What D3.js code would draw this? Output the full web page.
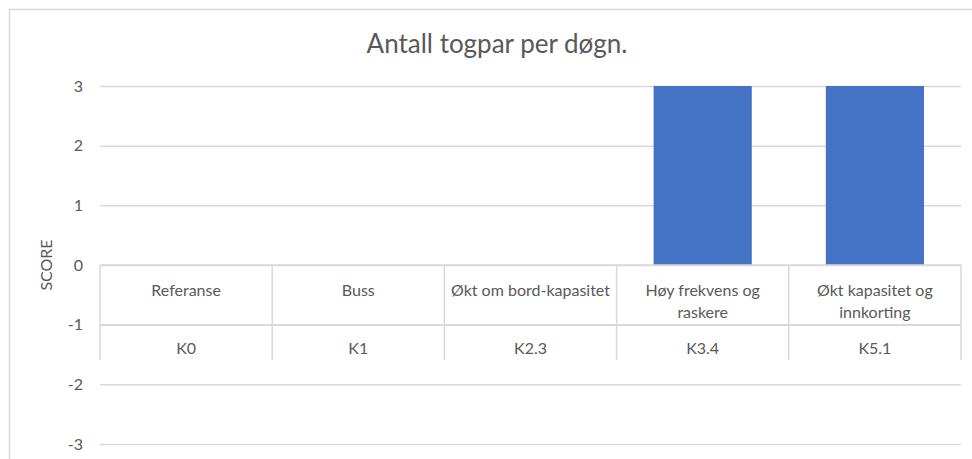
<!DOCTYPE html>
<html>
<head>
<meta charset="utf-8">
<script src="https://cdn.jsdelivr.net/npm/d3@7"></script>
<style>
  html, body { margin: 0; padding: 0; background: #fff; }
  svg { display: block; font-family: Lato, "Noto Sans", sans-serif; }
</style>
</head>
<body>
<svg id="chart" width="972" height="459"></svg>
<script>
// ---- data ----
const codes = ["K0", "K1", "K2.3", "K3.4", "K5.1"];
const names = ["Referanse", "Buss", "Økt om bord-kapasitet", "Høy frekvens og\nraskere", "Økt kapasitet og\ninnkorting"];
const values = [0, 0, 0, 3, 3];
const yTicks = [-3, -2, -1, 0, 1, 2, 3];
const title = "Antall togpar per døgn.";
const yTitle = "SCORE";

// ---- layout ----
const W = 972, H = 459;
const plot = { left: 100, right: 961, top: 86, bottom: 444 };
const textColor = "#595959", gridColor = "#d9d9d9";

const svg = d3.select("#chart");

// chart border
svg.append("rect")
  .attr("x", 9.5).attr("y", 9.5)
  .attr("width", W + 20).attr("height", H + 20)
  .attr("fill", "#fff").attr("stroke", gridColor).attr("stroke-width", 1.5);

const x = d3.scaleBand().domain(codes).range([plot.left, plot.right]).paddingInner(0.43).paddingOuter(0.215);
const xCat = d3.scaleBand().domain(codes).range([plot.left, plot.right]);
const y = d3.scaleLinear().domain([-3, 3]).range([plot.bottom, plot.top]);

// gridlines
const yAxis = d3.axisLeft(y).tickValues(yTicks).tickSize(-(plot.right - plot.left)).tickPadding(17).tickFormat(d => String(d));
const gy = svg.append("g").attr("transform", `translate(${plot.left},0)`).call(yAxis);
gy.select(".domain").remove();
gy.selectAll(".tick line").attr("stroke", gridColor).attr("stroke-width", 1.5);
gy.selectAll(".tick text").attr("fill", textColor).attr("font-size", 16).attr("font-family", "Lato, sans-serif");

// bars
svg.append("g").selectAll("rect")
  .data(codes.map((c, i) => ({ c, v: values[i] })))
  .join("rect")
  .attr("x", d => x(d.c))
  .attr("width", x.bandwidth())
  .attr("y", d => Math.min(y(d.v), y(0)))
  .attr("height", d => Math.abs(y(d.v) - y(0)))
  .attr("fill", "#4472C4");

// data table
const tTop = y(0), tMid = y(-1), tBottom = 360;
const table = svg.append("g");
table.append("line").attr("x1", plot.left).attr("x2", plot.right).attr("y1", tTop).attr("y2", tTop)
  .attr("stroke", gridColor).attr("stroke-width", 1.5);
table.append("line").attr("x1", plot.left).attr("x2", plot.right).attr("y1", tMid).attr("y2", tMid)
  .attr("stroke", gridColor).attr("stroke-width", 1.5);
const bounds = codes.map(c => xCat(c)).concat([plot.right]);
table.selectAll("line.v").data(bounds).join("line").attr("class", "v")
  .attr("x1", d => d).attr("x2", d => d).attr("y1", tTop).attr("y2", tBottom)
  .attr("stroke", gridColor).attr("stroke-width", 1.5);

const nameText = table.selectAll("text.name").data(names).join("text").attr("class", "name")
  .attr("text-anchor", "middle").attr("fill", textColor).attr("font-size", 16)
  .attr("x", (d, i) => xCat(codes[i]) + xCat.bandwidth() / 2)
  .attr("y", tTop + 31);
nameText.each(function(d) {
  const t = d3.select(this);
  d.split("\n").forEach((line, k) => {
    t.append("tspan").attr("x", t.attr("x")).attr("dy", k === 0 ? 0 : 22).text(line);
  });
});

table.selectAll("text.code").data(codes).join("text").attr("class", "code")
  .attr("text-anchor", "middle").attr("fill", textColor).attr("font-size", 16)
  .attr("x", d => xCat(d) + xCat.bandwidth() / 2)
  .attr("y", tMid + 29)
  .text(d => d);

// titles
svg.append("text").attr("x", 497).attr("y", 53).attr("text-anchor", "middle")
  .attr("fill", textColor).attr("font-size", 26).text(title);
svg.append("text").attr("transform", `translate(52,${y(0)}) rotate(-90)`).attr("text-anchor", "middle")
  .attr("fill", textColor).attr("font-size", 16).text(yTitle);
</script>
</body>
</html>
